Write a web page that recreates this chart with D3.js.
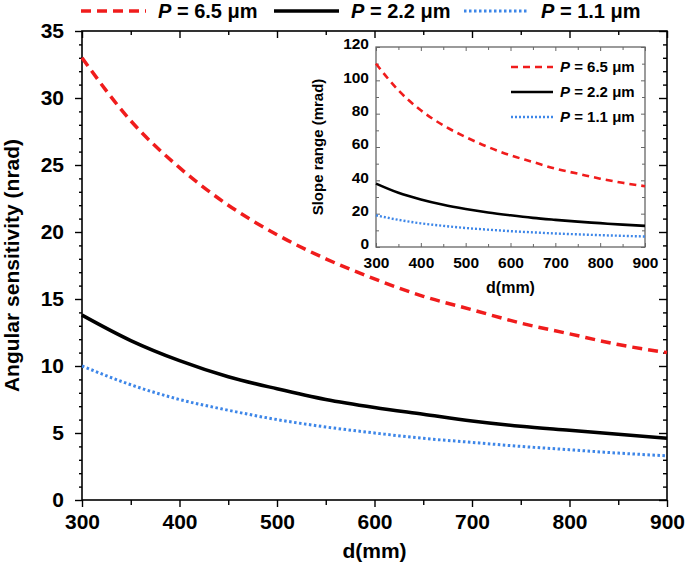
<!DOCTYPE html>
<html><head><meta charset="utf-8">
<script src="https://cdn.jsdelivr.net/npm/d3@7"></script>
<style>
body{margin:0;background:#fff;}
text{font-family:"Liberation Sans",Arial,sans-serif;font-weight:bold;}
</style></head>
<body><svg id="c" width="685" height="573"></svg>
<script>
const d = [300,350,400,450,500,550,600,650,700,750,800,850,900];
const angRed   = [33.0,28.3,24.8,22.0,19.8,18.0,16.5,15.2,14.2,13.2,12.4,11.6,11.0];
const angBlack = [13.8,11.9,10.4,9.2,8.3,7.5,6.9,6.4,5.9,5.5,5.2,4.9,4.6];
const angBlue  = [10.0,8.6,7.5,6.7,6.0,5.45,5.0,4.6,4.3,4.0,3.75,3.5,3.3];
const slopeRed   = [110,94,82,73,66,60,55,51,47,44,41,38.5,36.5];
const slopeBlack = [38,32.5,28.5,25.3,22.8,20.7,19,17.5,16.3,15.2,14.3,13.4,12.7];
const slopeBlue  = [19,16.3,14.2,12.7,11.4,10.4,9.5,8.8,8.1,7.6,7.1,6.7,6.3];
const seriesNames = ["6.5","2.2","1.1"];
const xTicks = [300,400,500,600,700,800,900];
const yTicks = [0,5,10,15,20,25,30,35];
const insetYTicks = [0,20,40,60,80,100,120];

const styles = [
  {color:"#f01c1c", dash:"10,6", w:3.5, iw:2.6, idash:"7,5"},
  {color:"#000000", dash:null, w:3.5, iw:2.6, idash:null},
  {color:"#3d86e8", dash:"2.5,2.5", w:3, iw:2.4, idash:"2,2"}
];

const svg = d3.select("#c");
const L=82,R=667,T=31,B=500;
const x = d3.scaleLinear().domain([300,900]).range([L,R]);
const y = d3.scaleLinear().domain([0,35]).range([B,T]);

// main frame
svg.append("rect").attr("x",L).attr("y",T).attr("width",R-L).attr("height",B-T)
  .attr("fill","none").attr("stroke","#000").attr("stroke-width",1.6);

// bottom axis (outward)
const gx = svg.append("g").attr("transform",`translate(0,${B})`)
  .call(d3.axisBottom(x).tickValues(d3.range(300,901,50)).tickSize(6).tickFormat(""));
gx.select(".domain").remove();
gx.selectAll(".tick line").attr("stroke-width",1.4).attr("y2",v=>v%100===0?7:5);
svg.append("g").attr("transform",`translate(0,${B})`)
  .call(d3.axisBottom(x).tickValues(xTicks).tickSize(0).tickPadding(14))
  .call(g=>g.select(".domain").remove())
  .selectAll("text").attr("font-size",21).attr("fill","#000");
// top axis (inward)
const gt = svg.append("g").attr("transform",`translate(0,${T})`)
  .call(d3.axisBottom(x).tickValues(d3.range(300,901,50)).tickFormat(""));
gt.select(".domain").remove();
gt.selectAll(".tick line").attr("stroke-width",1.4).attr("y2",v=>v%100===0?7:4);
// left axis (outward)
const gl = svg.append("g").attr("transform",`translate(${L},0)`)
  .call(d3.axisLeft(y).tickValues(d3.range(0,35.1,1)).tickFormat(""));
gl.select(".domain").remove();
gl.selectAll(".tick line").attr("stroke-width",1.4).attr("x2",v=>v%5===0?-7:-3);
svg.append("g").attr("transform",`translate(${L},0)`)
  .call(d3.axisLeft(y).tickValues(yTicks).tickSize(0).tickPadding(18))
  .call(g=>g.select(".domain").remove())
  .selectAll("text").attr("font-size",21).attr("fill","#000");
// right axis (inward)
const gr = svg.append("g").attr("transform",`translate(${R},0)`)
  .call(d3.axisLeft(y).tickValues(d3.range(0,35.1,1)).tickFormat(""));
gr.select(".domain").remove();
gr.selectAll(".tick line").attr("stroke-width",1.4).attr("x2",v=>v%5===0?-8:-4);

// axis titles
svg.append("text").attr("x",(L+R)/2).attr("y",558).attr("text-anchor","middle")
  .attr("font-size",21).text("d(mm)");
svg.append("text").attr("transform",`translate(19,${(T+B)/2}) rotate(-90)`)
  .attr("text-anchor","middle").attr("font-size",21).text("Angular sensitivity (nrad)");

// main lines
const mainData=[angRed,angBlack,angBlue];
const line = d3.line().x((v,i)=>x(d[i])).y(v=>y(v)).curve(d3.curveMonotoneX);
mainData.forEach((s,k)=>{
  svg.append("path").attr("d",line(s)).attr("fill","none")
   .attr("stroke",styles[k].color).attr("stroke-width",styles[k].w)
   .attr("stroke-dasharray",styles[k].dash);
});

// top legend
const legX=[81,274,464];
seriesNames.forEach((n,k)=>{
  svg.append("line").attr("x1",legX[k]).attr("x2",legX[k]+65).attr("y1",11).attr("y2",11)
   .attr("stroke",styles[k].color).attr("stroke-width",styles[k].w).attr("stroke-dasharray",styles[k].dash);
  const t=svg.append("text").attr("x",legX[k]+77).attr("y",18).attr("font-size",20);
  t.append("tspan").attr("font-style","italic").text("P");
  t.append("tspan").text(" = "+n+" μm");
});

// inset
const iL=376,iR=645,iT=47,iB=247;
const ix=d3.scaleLinear().domain([300,900]).range([iL,iR]);
const iy=d3.scaleLinear().domain([0,120]).range([iB,iT]);
const ig=svg.append("g");
ig.append("rect").attr("x",iL).attr("y",iT).attr("width",iR-iL).attr("height",iB-iT)
  .attr("fill","#fff").attr("stroke","#666").attr("stroke-width",1.3);
// inset ticks inward
const ixb=ig.append("g").attr("transform",`translate(0,${iB})`)
  .call(d3.axisTop(ix).tickValues(d3.range(300,901,50)).tickFormat(""));
ixb.select(".domain").remove();
ixb.selectAll(".tick line").attr("stroke","#666").attr("y2",v=>v%100===0?-4:-3);
ig.append("g").attr("transform",`translate(0,${iB})`)
  .call(d3.axisBottom(ix).tickValues(xTicks).tickSize(0).tickPadding(10))
  .call(g=>g.select(".domain").remove())
  .selectAll("text").attr("font-size",15.5).attr("fill","#000");
const ixt=ig.append("g").attr("transform",`translate(0,${iT})`)
  .call(d3.axisBottom(ix).tickValues(d3.range(300,901,50)).tickFormat(""));
ixt.select(".domain").remove();
ixt.selectAll(".tick line").attr("stroke","#666").attr("y2",v=>v%100===0?4:3);
const iyl=ig.append("g").attr("transform",`translate(${iL},0)`)
  .call(d3.axisRight(iy).tickValues(d3.range(0,121,10)).tickFormat(""));
iyl.select(".domain").remove();
iyl.selectAll(".tick line").attr("stroke","#666").attr("x2",v=>v%20===0?4:3);
ig.append("g").attr("transform",`translate(${iL},-3)`)
  .call(d3.axisLeft(iy).tickValues(insetYTicks).tickSize(0).tickPadding(7))
  .call(g=>g.select(".domain").remove())
  .selectAll("text").attr("font-size",15.5).attr("fill","#000");
const iyr=ig.append("g").attr("transform",`translate(${iR},0)`)
  .call(d3.axisLeft(iy).tickValues(d3.range(0,121,10)).tickFormat(""));
iyr.select(".domain").remove();
iyr.selectAll(".tick line").attr("stroke","#666").attr("x2",v=>v%20===0?-4:-3);

ig.append("text").attr("x",(iL+iR)/2).attr("y",293).attr("text-anchor","middle")
  .attr("font-size",16).text("d(mm)");
ig.append("text").attr("transform",`translate(323,${(iT+iB)/2}) rotate(-90)`)
  .attr("text-anchor","middle").attr("font-size",15).text("Slope range (mrad)");

const insetData=[slopeRed,slopeBlack,slopeBlue];
const iline=d3.line().x((v,i)=>ix(d[i])).y(v=>iy(v)).curve(d3.curveMonotoneX);
insetData.forEach((s,k)=>{
  ig.append("path").attr("d",iline(s)).attr("fill","none")
   .attr("stroke",styles[k].color).attr("stroke-width",styles[k].iw)
   .attr("stroke-dasharray",styles[k].idash);
});
const ilegY=[67,92,117];
seriesNames.forEach((n,k)=>{
  ig.append("line").attr("x1",511).attr("x2",553).attr("y1",ilegY[k]).attr("y2",ilegY[k])
   .attr("stroke",styles[k].color).attr("stroke-width",styles[k].iw).attr("stroke-dasharray",styles[k].idash);
  const t=ig.append("text").attr("x",560).attr("y",ilegY[k]+5).attr("font-size",15);
  t.append("tspan").attr("font-style","italic").text("P");
  t.append("tspan").text(" = "+n+" μm");
});
</script></body></html>
